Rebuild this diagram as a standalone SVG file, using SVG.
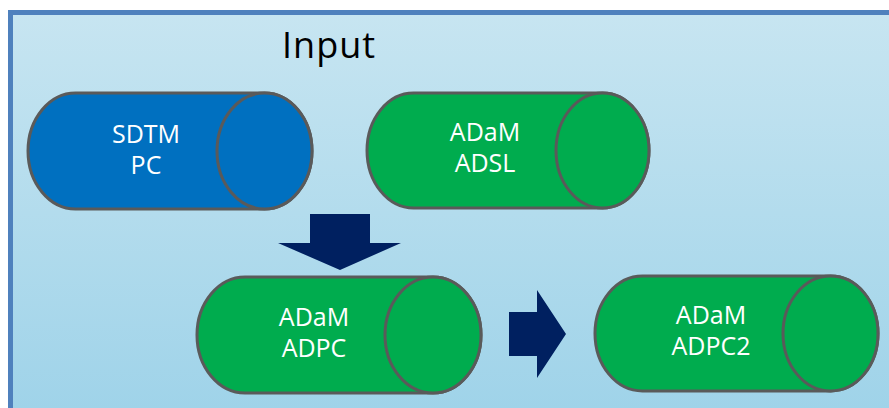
<svg xmlns="http://www.w3.org/2000/svg" width="889" height="408" viewBox="0 0 889 408">
<defs>
<linearGradient id="bg" x1="0" y1="0" x2="0" y2="1">
<stop offset="0" stop-color="#c7e5f1"/>
<stop offset="1" stop-color="#9fd3e9"/>
</linearGradient>
<style>
.cyl{stroke:#5a5a5a;stroke-width:3}
.green{fill:#00ac4e}
.blue{fill:#0070c0}
.lbl{font-family:"Open Sans","Liberation Sans",sans-serif;font-size:25px;fill:#ffffff;text-anchor:middle}
.arrow{fill:#002060}
</style>
</defs>
<rect x="0" y="0" width="889" height="408" fill="#ffffff"/>
<rect x="10.5" y="12.5" width="890" height="400" fill="url(#bg)" stroke="#4f81bd" stroke-width="5"/>
<text x="282" y="58" font-family="'Open Sans','Liberation Sans',sans-serif" font-size="36" letter-spacing="1" fill="#000000">Input</text>
<g id="sdtm-pc">
<path class="cyl blue" d="M75.5,93 L264.5,93 A47.5,58 0 0 1 264.5,209 L75.5,209 A47.5,58 0 0 1 75.5,93 Z"/>
<ellipse class="cyl blue" cx="264.5" cy="151" rx="47.5" ry="58"/>
<text class="lbl" x="146" y="143">SDTM</text>
<text class="lbl" x="146" y="174">PC</text>
</g>
<g id="adam-adsl">
<path class="cyl green" d="M413.5,93 L602.5,93 A46.5,57.5 0 0 1 602.5,208 L413.5,208 A46.5,57.5 0 0 1 413.5,93 Z"/>
<ellipse class="cyl green" cx="602.5" cy="150.5" rx="46.5" ry="57.5"/>
<text class="lbl" x="485" y="141">ADaM</text>
<text class="lbl" x="485" y="172">ADSL</text>
</g>
<g id="adam-adpc">
<path class="cyl green" d="M245,277 L433,277 A48,58 0 0 1 433,393 L245,393 A48,58 0 0 1 245,277 Z"/>
<ellipse class="cyl green" cx="433" cy="335" rx="48" ry="58"/>
<text class="lbl" x="314" y="326">ADaM</text>
<text class="lbl" x="314" y="357">ADPC</text>
</g>
<g id="adam-adpc2">
<path class="cyl green" d="M642.5,276 L830.5,276 A47.5,57.5 0 0 1 830.5,391 L642.5,391 A47.5,57.5 0 0 1 642.5,276 Z"/>
<ellipse class="cyl green" cx="830.5" cy="333.5" rx="47.5" ry="57.5"/>
<text class="lbl" x="711" y="324">ADaM</text>
<text class="lbl" x="711" y="355">ADPC2</text>
</g>
<g id="connectors">
<polygon class="arrow" points="310,214 370,214 370,243 401,243 340,270 278,243 310,243"/>
<polygon class="arrow" points="509,312 537,312 537,290 566,334 537,378 537,356 509,356"/>
</g>
</svg>
